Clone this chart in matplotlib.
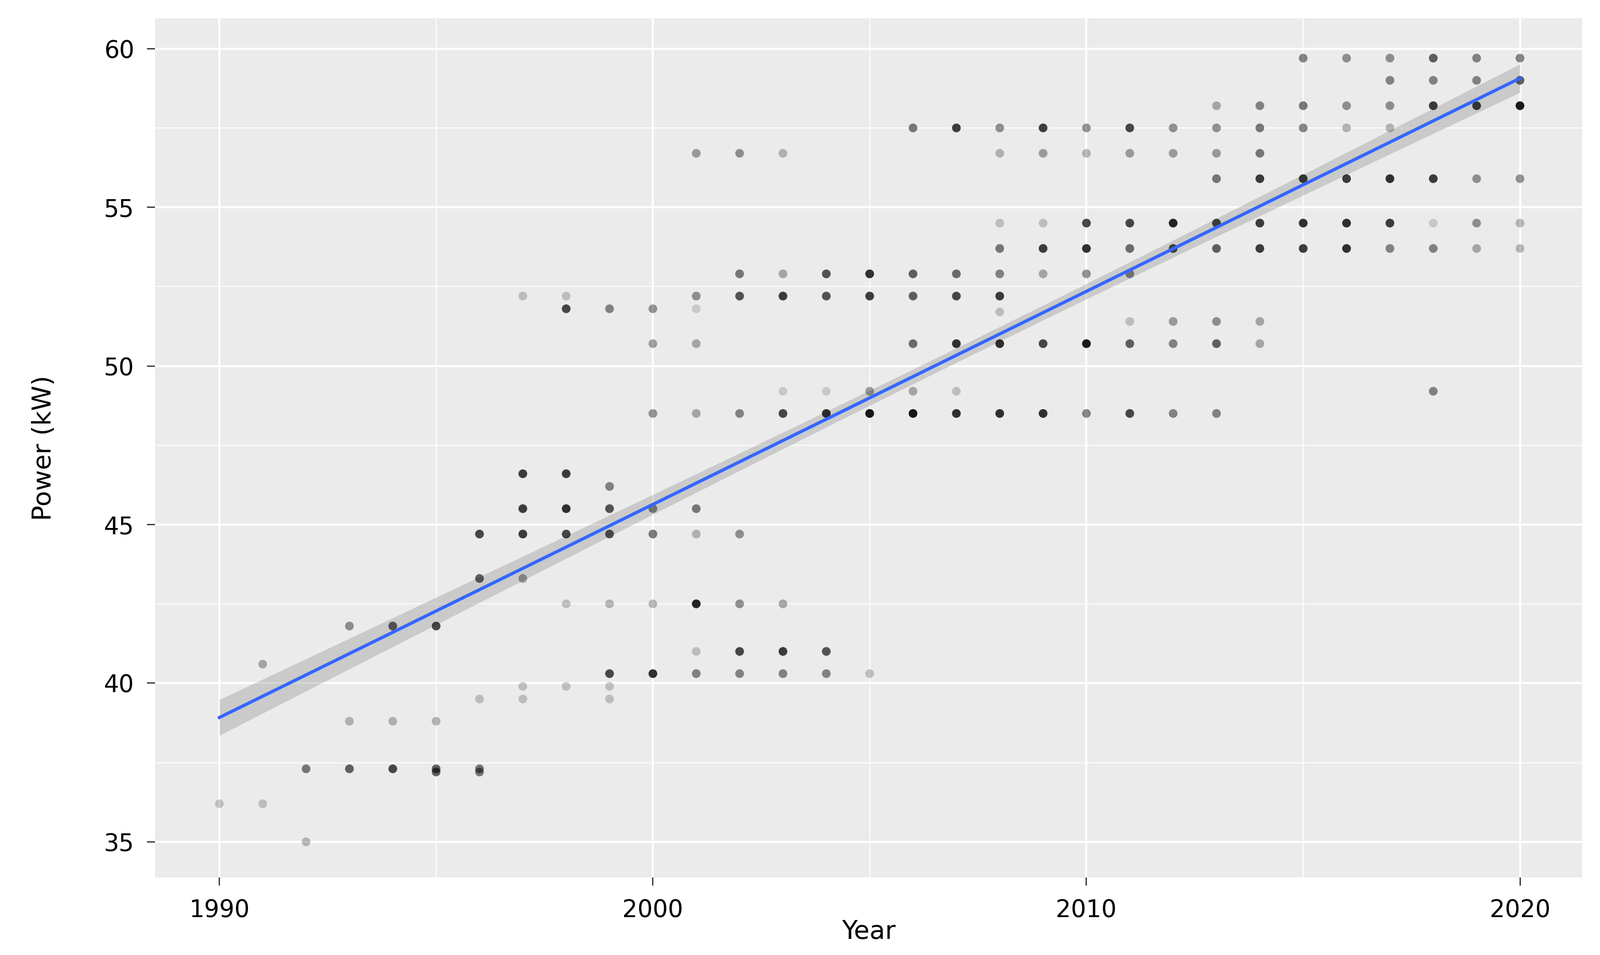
import numpy as np
import matplotlib
matplotlib.use("Agg")
import matplotlib.pyplot as plt
from matplotlib.ticker import MultipleLocator

# observed points: year, power (kW), shading (alpha read from the picture;
# darker dots are several overlaid records)
YEARS = [1990, 1991, 1991, 1992, 1992,
         1993, 1993, 1993, 1994, 1994, 1994,
         1995, 1995, 1995, 1995, 1996, 1996, 1996, 1996, 1996,
         1997, 1997, 1997, 1997, 1997, 1997, 1997,
         1998, 1998, 1998, 1998, 1998, 1998, 1998,
         1999, 1999, 1999, 1999, 1999, 1999, 1999, 1999,
         2000, 2000, 2000, 2000, 2000, 2000, 2000,
         2001, 2001, 2001, 2001, 2001, 2001, 2001, 2001, 2001, 2001,
         2002, 2002, 2002, 2002, 2002, 2002, 2002, 2002,
         2003, 2003, 2003, 2003, 2003, 2003, 2003, 2003,
         2004, 2004, 2004, 2004, 2004, 2004,
         2005, 2005, 2005, 2005, 2005,
         2006, 2006, 2006, 2006, 2006, 2006,
         2007, 2007, 2007, 2007, 2007, 2007,
         2008, 2008, 2008, 2008, 2008, 2008, 2008, 2008, 2008,
         2009, 2009, 2009, 2009, 2009, 2009, 2009,
         2010, 2010, 2010, 2010, 2010, 2010, 2010,
         2011, 2011, 2011, 2011, 2011, 2011, 2011, 2011,
         2012, 2012, 2012, 2012, 2012, 2012, 2012,
         2013, 2013, 2013, 2013, 2013, 2013, 2013, 2013, 2013,
         2014, 2014, 2014, 2014, 2014, 2014, 2014, 2014,
         2015, 2015, 2015, 2015, 2015, 2015,
         2016, 2016, 2016, 2016, 2016, 2016,
         2017, 2017, 2017, 2017, 2017, 2017, 2017,
         2018, 2018, 2018, 2018, 2018, 2018, 2018,
         2019, 2019, 2019, 2019, 2019, 2019,
         2020, 2020, 2020, 2020, 2020, 2020]
POWER = [36.2, 40.6, 36.2, 37.3, 35.0,
         41.8, 38.8, 37.3, 41.8, 38.8, 37.3,
         41.8, 38.8, 37.3, 37.2, 44.7, 43.3, 39.5, 37.3, 37.2,
         52.2, 46.6, 45.5, 44.7, 43.3, 39.9, 39.5,
         52.2, 51.8, 46.6, 45.5, 44.7, 42.5, 39.9,
         51.8, 46.2, 45.5, 44.7, 42.5, 40.3, 39.9, 39.5,
         51.8, 50.7, 48.5, 45.5, 44.7, 42.5, 40.3,
         56.7, 52.2, 51.8, 50.7, 48.5, 45.5, 44.7, 42.5, 41.0, 40.3,
         56.7, 52.9, 52.2, 48.5, 44.7, 42.5, 41.0, 40.3,
         56.7, 52.9, 52.2, 49.2, 48.5, 42.5, 41.0, 40.3,
         52.9, 52.2, 49.2, 48.5, 41.0, 40.3,
         52.9, 52.2, 49.2, 48.5, 40.3,
         57.5, 52.9, 52.2, 50.7, 49.2, 48.5,
         57.5, 52.9, 52.2, 50.7, 49.2, 48.5,
         57.5, 56.7, 54.5, 53.7, 52.9, 52.2, 51.7, 50.7, 48.5,
         57.5, 56.7, 54.5, 53.7, 52.9, 50.7, 48.5,
         57.5, 56.7, 54.5, 53.7, 52.9, 50.7, 48.5,
         57.5, 56.7, 54.5, 53.7, 52.9, 51.4, 50.7, 48.5,
         57.5, 56.7, 54.5, 53.7, 51.4, 50.7, 48.5,
         58.2, 57.5, 56.7, 55.9, 54.5, 53.7, 51.4, 50.7, 48.5,
         58.2, 57.5, 56.7, 55.9, 54.5, 53.7, 51.4, 50.7,
         59.7, 58.2, 57.5, 55.9, 54.5, 53.7,
         59.7, 58.2, 57.5, 55.9, 54.5, 53.7,
         59.7, 59.0, 58.2, 57.5, 55.9, 54.5, 53.7,
         59.7, 59.0, 58.2, 55.9, 54.5, 53.7, 49.2,
         59.7, 59.0, 58.2, 55.9, 54.5, 53.7,
         59.7, 59.0, 58.2, 55.9, 54.5, 53.7]
SHADE = [0.2, 0.3, 0.2, 0.5, 0.25,
         0.4, 0.25, 0.6, 0.6, 0.25, 0.7,
         0.7, 0.25, 0.6, 0.6, 0.7, 0.6, 0.2, 0.5, 0.5,
         0.2, 0.75, 0.75, 0.75, 0.35, 0.2, 0.2,
         0.2, 0.7, 0.75, 0.8, 0.7, 0.2, 0.2,
         0.45, 0.45, 0.65, 0.65, 0.25, 0.7, 0.2, 0.2,
         0.4, 0.35, 0.4, 0.45, 0.5, 0.25, 0.8,
         0.35, 0.4, 0.15, 0.3, 0.3, 0.5, 0.25, 0.85, 0.2, 0.45,
         0.4, 0.5, 0.65, 0.45, 0.4, 0.4, 0.7, 0.45,
         0.25, 0.3, 0.75, 0.15, 0.7, 0.3, 0.75, 0.45,
         0.65, 0.65, 0.15, 0.8, 0.65, 0.45,
         0.8, 0.75, 0.35, 0.9, 0.2,
         0.5, 0.6, 0.6, 0.55, 0.3, 0.9,
         0.75, 0.55, 0.7, 0.8, 0.2, 0.8,
         0.4, 0.25, 0.2, 0.5, 0.45, 0.75, 0.2, 0.8, 0.8,
         0.75, 0.35, 0.2, 0.75, 0.3, 0.7, 0.8,
         0.4, 0.25, 0.7, 0.8, 0.4, 0.9, 0.45,
         0.7, 0.35, 0.7, 0.55, 0.45, 0.2, 0.6, 0.7,
         0.4, 0.35, 0.85, 0.7, 0.35, 0.45, 0.45,
         0.3, 0.4, 0.35, 0.5, 0.7, 0.6, 0.4, 0.6, 0.45,
         0.45, 0.5, 0.5, 0.75, 0.75, 0.75, 0.3, 0.3,
         0.45, 0.5, 0.45, 0.75, 0.8, 0.75,
         0.4, 0.4, 0.25, 0.75, 0.8, 0.8,
         0.4, 0.45, 0.4, 0.25, 0.8, 0.75, 0.45,
         0.6, 0.45, 0.75, 0.75, 0.15, 0.45, 0.45,
         0.45, 0.45, 0.75, 0.4, 0.4, 0.3,
         0.45, 0.6, 0.9, 0.4, 0.25, 0.25]

RECORDS_PER_SHADE = 10   # roughly how many overlaid records one unit of shade is

x = np.array(YEARS, dtype=float)
y = np.array(POWER)
w = np.array(SHADE) * RECORDS_PER_SHADE

fig = plt.figure(figsize=(13.935, 8.32), dpi=200)
ax = fig.add_axes([0.097, 0.081, 0.892, 0.9])
ax.set_facecolor("#EBEBEB")

colors = [(0, 0, 0, a) for a in SHADE]
ax.scatter(x, y, s=30, c=colors, linewidths=0, zorder=3)

# weighted linear fit with 95% confidence band (geom_smooth(method="lm") look)
coef = np.polyfit(x, y, 1, w=np.sqrt(w))
xs = np.linspace(x.min(), x.max(), 100)
ys = np.polyval(coef, xs)
resid = y - np.polyval(coef, x)
n = w.sum()
xm = (w * x).sum() / n
s = np.sqrt((w * resid ** 2).sum() / (n - 2))
se = s * np.sqrt(1 / n + (xs - xm) ** 2 / (w * (x - xm) ** 2).sum())
ax.fill_between(xs, ys - 1.97 * se, ys + 1.97 * se, color="#999999",
                alpha=0.4, linewidth=0, zorder=2)
ax.plot(xs, ys, color="#3366FF", linewidth=2, zorder=4)

ax.set_xlim(1988.52, 2021.44)
ax.set_ylim(33.87, 60.96)
ax.xaxis.set_major_locator(MultipleLocator(10))
ax.xaxis.set_minor_locator(MultipleLocator(5))
ax.yaxis.set_major_locator(MultipleLocator(5))
ax.yaxis.set_minor_locator(MultipleLocator(2.5))
ax.grid(which="major", color="white", linewidth=1.3, zorder=0)
ax.grid(which="minor", color="white", linewidth=0.6, zorder=0)
ax.set_axisbelow(True)
for sp in ax.spines.values():
    sp.set_visible(False)
ax.tick_params(which="both", length=0, labelsize=15, pad=8)
ax.tick_params(which="major", length=5, color="#333333")
ax.set_xlabel("Year", fontsize=16, labelpad=-2)
ax.set_ylabel("Power (kW)", fontsize=16, labelpad=30)

fig.savefig("out.png", dpi=200)
